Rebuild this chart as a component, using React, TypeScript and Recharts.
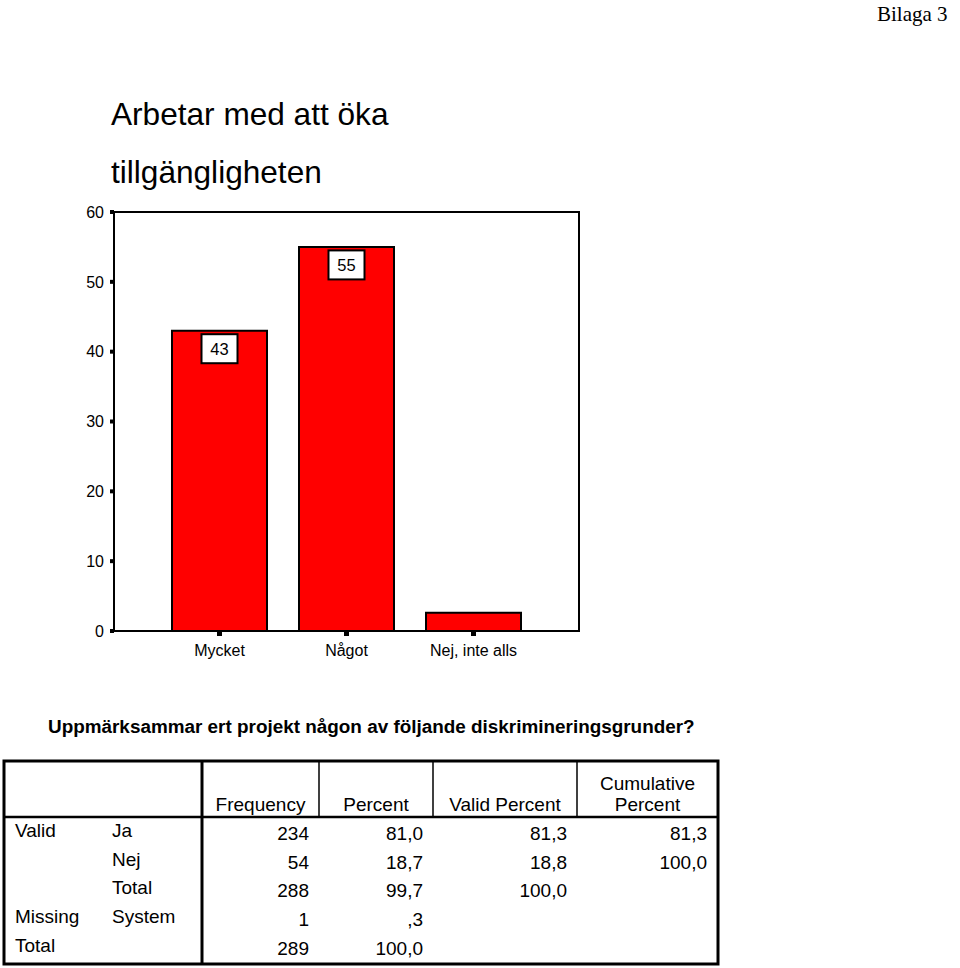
import React from "react";
import { BarChart, Bar, XAxis, YAxis, LabelList, ReferenceArea } from "recharts";

const categories = ["Mycket", "Något", "Nej, inte alls"];
const percentValues = [43, 55, 2.6];
const yTicks = [0, 10, 20, 30, 40, 50, 60];
const yMax = 60;

const titleLines = ["Arbetar med att öka", "tillgängligheten"];
const subtitle = "Uppmärksammar ert projekt någon av följande diskrimineringsgrunder?";
const pageLabel = "Bilaga 3";

const headerSingle = ["Frequency", "Percent", "Valid Percent"];
const headerCumulative = ["Cumulative", "Percent"];
const rowGroup = ["Valid", "", "", "Missing", "Total"];
const rowLabel = ["Ja", "Nej", "Total", "System", ""];
const frequency = ["234", "54", "288", "1", "289"];
const percent = ["81,0", "18,7", "99,7", ",3", "100,0"];
const validPercent = ["81,3", "18,8", "100,0", "", ""];
const cumulativePercent = ["81,3", "100,0", "", "", ""];

const data = categories.map((name, i) => ({ name, value: percentValues[i] }));

const FONT = "'Liberation Sans', Arial, Helvetica, sans-serif";

const renderBoxLabel = (props: any) => {
  const { x, y, width, height, value } = props;
  if (height < 35) return null;
  const cx = Number(x) + Number(width) / 2;
  const bw = 36;
  const bh = 29;
  const top = Number(y) + 3.5;
  return (
    <g>
      <rect x={cx - bw / 2} y={top} width={bw} height={bh} fill="#fff" stroke="#000" strokeWidth={2} />
      <text x={cx} y={top + bh / 2 + 6} textAnchor="middle" fontSize={16.5} fontFamily={FONT} fill="#000">
        {Math.round(Number(value))}
      </text>
    </g>
  );
};

// table geometry
const colEdges = [202, 319, 433, 577, 718];
const numRight = [309, 423, 567, 707];
const labelBase = [837, 865.5, 894, 923, 952];
const numCols = [frequency, percent, validPercent, cumulativePercent];

export default function App() {
  return (
    <div style={{ position: "absolute", left: 0, top: 0, width: 960, height: 968, background: "#fff" }}>
      <svg width={960} height={968} style={{ position: "absolute", left: 0, top: 0 }}>
        <text x={877} y={21} fontFamily="'Liberation Serif', 'Times New Roman', serif" fontSize={21} fill="#000">
          {pageLabel}
        </text>
        <text x={111} y={125} fontFamily={FONT} fontSize={31.6} fill="#000">{titleLines[0]}</text>
        <text x={111} y={183} fontFamily={FONT} fontSize={31.6} fill="#000">{titleLines[1]}</text>
        <text x={48} y={733} fontFamily={FONT} fontSize={18.9} fontWeight="bold" fill="#000">{subtitle}</text>

        {/* table */}
        <rect x={4} y={761} width={714} height={203} fill="none" stroke="#000" strokeWidth={3} />
        <line x1={202} y1={761} x2={202} y2={964} stroke="#000" strokeWidth={3} />
        <line x1={4} y1={817} x2={718} y2={817} stroke="#000" strokeWidth={2.5} />
        {colEdges.slice(1, 4).map((cx) => (
          <line key={cx} x1={cx} y1={761} x2={cx} y2={817} stroke="#000" strokeWidth={1.5} />
        ))}
        {headerSingle.map((h, i) => (
          <text key={h} x={(colEdges[i] + colEdges[i + 1]) / 2} y={811} textAnchor="middle" fontFamily={FONT} fontSize={19} fill="#000">
            {h}
          </text>
        ))}
        <text x={(colEdges[3] + colEdges[4]) / 2} y={790} textAnchor="middle" fontFamily={FONT} fontSize={19} fill="#000">
          {headerCumulative[0]}
        </text>
        <text x={(colEdges[3] + colEdges[4]) / 2} y={811} textAnchor="middle" fontFamily={FONT} fontSize={19} fill="#000">
          {headerCumulative[1]}
        </text>
        {rowGroup.map((g, r) => (
          <g key={"r" + r}>
            <text x={15} y={labelBase[r]} fontFamily={FONT} fontSize={19} fill="#000">{g}</text>
            <text x={112} y={labelBase[r]} fontFamily={FONT} fontSize={19} fill="#000">{rowLabel[r]}</text>
            {numCols.map((col, c) => (
              <text key={c} x={numRight[c]} y={labelBase[r] + 3} textAnchor="end" fontFamily={FONT} fontSize={19} fill="#000">
                {col[r]}
              </text>
            ))}
          </g>
        ))}
      </svg>

      <div style={{ position: "absolute", left: 0, top: 0 }}>
        <BarChart
          width={960}
          height={700}
          data={data}
          margin={{ top: 212, right: 381, left: 54, bottom: 29 }}
          barCategoryGap={16}
        >
          <XAxis xAxisId="frame" type="number" domain={[0, 1]} hide />
          <XAxis
            dataKey="name"
            height={40}
            padding={{ left: 42, right: 42 }}
            axisLine={{ stroke: "#000", strokeWidth: 2 }}
            tickLine={{ stroke: "#000", strokeWidth: 5 }}
            tickSize={5}
            tickMargin={9}
            tick={{ fill: "#000", fontSize: 16, fontFamily: FONT }}
            interval={0}
          />
          <YAxis
            domain={[0, yMax]}
            ticks={yTicks}
            width={60}
            axisLine={{ stroke: "#000", strokeWidth: 2 }}
            tickLine={{ stroke: "#000", strokeWidth: 4 }}
            tickSize={4}
            tickMargin={6}
            tick={{ fill: "#000", fontSize: 16, fontFamily: FONT }}
            interval={0}
          />
          <ReferenceArea xAxisId="frame" y1={0} y2={yMax} fill="none" stroke="#000" strokeWidth={2} fillOpacity={0} ifOverflow="visible" />
          <Bar dataKey="value" fill="#ff0000" stroke="#000" strokeWidth={2} barSize={95} isAnimationActive={false}>
            <LabelList dataKey="value" content={renderBoxLabel} />
          </Bar>
        </BarChart>
      </div>
    </div>
  );
}
